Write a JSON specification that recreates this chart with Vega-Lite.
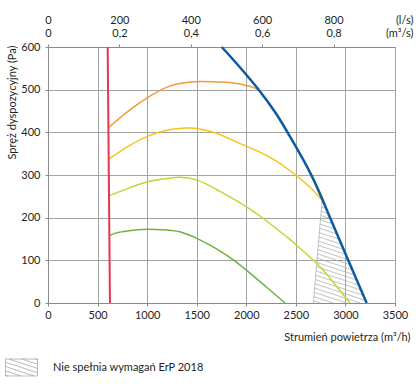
{
  "$schema": "https://vega.github.io/schema/vega-lite/v6.json",
  "width": 347,
  "height": 256,
  "autosize": "none",
  "padding": {"left": 48, "top": 47, "right": 25, "bottom": 85},
  "config": {
    "view": {"stroke": null},
    "font": "Lato",
    "axis": {
      "labelFont": "Lato",
      "labelFontSize": 11,
      "labelColor": "#231f20",
      "titleFont": "Lato",
      "titleFontSize": 11,
      "titleFontWeight": "normal",
      "titleColor": "#231f20",
      "tickColor": "#8a8a8a",
      "domainColor": "#8a8a8a",
      "gridColor": "#a3a3a3",
      "gridOpacity": 1,
      "gridWidth": 1,
      "tickSize": 3,
      "labelFlush": false,
      "labelOverlap": false
    }
  },
  "datasets": {
    "hatch": [
      {"zone": "Nie spełnia wymagań ErP 2018", "x": 2676, "y": 0, "x2": 2765, "y2": 241},
      {"zone": "Nie spełnia wymagań ErP 2018", "x": 2763, "y": 235, "x2": 2779, "y2": 233.8},
      {"zone": "Nie spełnia wymagań ErP 2018", "x": 2759, "y": 225, "x2": 2803, "y2": 221.7},
      {"zone": "Nie spełnia wymagań ErP 2018", "x": 2755, "y": 215, "x2": 2826, "y2": 209.6},
      {"zone": "Nie spełnia wymagań ErP 2018", "x": 2752, "y": 205, "x2": 2850, "y2": 197.5},
      {"zone": "Nie spełnia wymagań ErP 2018", "x": 2748, "y": 195, "x2": 2871, "y2": 185.6},
      {"zone": "Nie spełnia wymagań ErP 2018", "x": 2744, "y": 185, "x2": 2892, "y2": 173.7},
      {"zone": "Nie spełnia wymagań ErP 2018", "x": 2741, "y": 175, "x2": 2913, "y2": 161.8},
      {"zone": "Nie spełnia wymagań ErP 2018", "x": 2737, "y": 165, "x2": 2934, "y2": 149.9},
      {"zone": "Nie spełnia wymagań ErP 2018", "x": 2733, "y": 155, "x2": 2955, "y2": 138.0},
      {"zone": "Nie spełnia wymagań ErP 2018", "x": 2730, "y": 145, "x2": 2976, "y2": 126.1},
      {"zone": "Nie spełnia wymagań ErP 2018", "x": 2726, "y": 135, "x2": 2998, "y2": 114.2},
      {"zone": "Nie spełnia wymagań ErP 2018", "x": 2722, "y": 125, "x2": 3019, "y2": 102.2},
      {"zone": "Nie spełnia wymagań ErP 2018", "x": 2718, "y": 115, "x2": 3042, "y2": 90.2},
      {"zone": "Nie spełnia wymagań ErP 2018", "x": 2715, "y": 105, "x2": 3065, "y2": 78.2},
      {"zone": "Nie spełnia wymagań ErP 2018", "x": 2711, "y": 95, "x2": 3088, "y2": 66.2},
      {"zone": "Nie spełnia wymagań ErP 2018", "x": 2707, "y": 85, "x2": 3111, "y2": 54.1},
      {"zone": "Nie spełnia wymagań ErP 2018", "x": 2704, "y": 75, "x2": 3134, "y2": 42.1},
      {"zone": "Nie spełnia wymagań ErP 2018", "x": 2700, "y": 65, "x2": 3157, "y2": 30.0},
      {"zone": "Nie spełnia wymagań ErP 2018", "x": 2696, "y": 55, "x2": 3180, "y2": 18.0},
      {"zone": "Nie spełnia wymagań ErP 2018", "x": 2693, "y": 45, "x2": 3203, "y2": 5.9},
      {"zone": "Nie spełnia wymagań ErP 2018", "x": 2689, "y": 35, "x2": 3145, "y2": 0},
      {"zone": "Nie spełnia wymagań ErP 2018", "x": 2685, "y": 25, "x2": 3011, "y2": 0},
      {"zone": "Nie spełnia wymagań ErP 2018", "x": 2682, "y": 15, "x2": 2877, "y2": 0},
      {"zone": "Nie spełnia wymagań ErP 2018", "x": 2678, "y": 5, "x2": 2743, "y2": 0}
    ],
    "curves": [
      {"series": "k4", "x": 615, "y": 412},
      {"series": "k4", "x": 800, "y": 448},
      {"series": "k4", "x": 1000, "y": 481},
      {"series": "k4", "x": 1200, "y": 506},
      {"series": "k4", "x": 1300, "y": 513},
      {"series": "k4", "x": 1400, "y": 517},
      {"series": "k4", "x": 1550, "y": 519},
      {"series": "k4", "x": 1700, "y": 518},
      {"series": "k4", "x": 1850, "y": 516},
      {"series": "k4", "x": 2000, "y": 510},
      {"series": "k4", "x": 2060, "y": 506},
      {"series": "k4", "x": 2121, "y": 500},
      {"series": "k3", "x": 615, "y": 337},
      {"series": "k3", "x": 800, "y": 366},
      {"series": "k3", "x": 1006, "y": 391},
      {"series": "k3", "x": 1200, "y": 405},
      {"series": "k3", "x": 1382, "y": 410},
      {"series": "k3", "x": 1506, "y": 409},
      {"series": "k3", "x": 1700, "y": 398},
      {"series": "k3", "x": 1836, "y": 384},
      {"series": "k3", "x": 2105, "y": 357},
      {"series": "k3", "x": 2300, "y": 333},
      {"series": "k3", "x": 2441, "y": 310},
      {"series": "k3", "x": 2508, "y": 298},
      {"series": "k3", "x": 2640, "y": 272},
      {"series": "k3", "x": 2765, "y": 241},
      {"series": "k2", "x": 615, "y": 251},
      {"series": "k2", "x": 800, "y": 268},
      {"series": "k2", "x": 1006, "y": 284},
      {"series": "k2", "x": 1200, "y": 292},
      {"series": "k2", "x": 1331, "y": 295},
      {"series": "k2", "x": 1506, "y": 288},
      {"series": "k2", "x": 1700, "y": 266},
      {"series": "k2", "x": 1869, "y": 244},
      {"series": "k2", "x": 2037, "y": 220},
      {"series": "k2", "x": 2172, "y": 198},
      {"series": "k2", "x": 2300, "y": 175},
      {"series": "k2", "x": 2441, "y": 149},
      {"series": "k2", "x": 2508, "y": 135},
      {"series": "k2", "x": 2727, "y": 89},
      {"series": "k2", "x": 2900, "y": 42},
      {"series": "k2", "x": 3046, "y": 0},
      {"series": "k1", "x": 615, "y": 158},
      {"series": "k1", "x": 700, "y": 165},
      {"series": "k1", "x": 800, "y": 169},
      {"series": "k1", "x": 1000, "y": 173},
      {"series": "k1", "x": 1200, "y": 171},
      {"series": "k1", "x": 1331, "y": 167},
      {"series": "k1", "x": 1506, "y": 151},
      {"series": "k1", "x": 1700, "y": 127},
      {"series": "k1", "x": 1869, "y": 101},
      {"series": "k1", "x": 2037, "y": 70},
      {"series": "k1", "x": 2200, "y": 38},
      {"series": "k1", "x": 2391, "y": 0}
    ],
    "limit": [
      {"x": 1752, "y": 600},
      {"x": 1900, "y": 562},
      {"x": 2121, "y": 501},
      {"x": 2300, "y": 444},
      {"x": 2441, "y": 390},
      {"x": 2660, "y": 298},
      {"x": 2845, "y": 200},
      {"x": 3023, "y": 103},
      {"x": 3214, "y": 0}
    ],
    "minimum": [
      {"x": 602, "y": 600},
      {"x": 625, "y": 0}
    ]
  },
  "layer": [
    {
      "data": {"name": "hatch"},
      "mark": {"type": "rule", "strokeWidth": 0.7},
      "encoding": {
        "x": {
          "field": "x", "type": "quantitative",
          "scale": {"domain": [0, 3500], "nice": false, "zero": false},
          "axis": {
            "orient": "bottom",
            "values": [0, 500, 1000, 1500, 2000, 2500, 3000, 3500],
            "format": "d",
            "grid": true,
            "labelPadding": 3,
            "title": "Strumień powietrza (m³/h)",
            "titleX": 362,
            "titleY": 34,
            "titleAlign": "right",
            "titleBaseline": "middle"
          }
        },
        "y": {
          "field": "y", "type": "quantitative",
          "scale": {"domain": [0, 600], "nice": false},
          "axis": {
            "values": [0, 100, 200, 300, 400, 500, 600],
            "grid": true,
            "labelPadding": 5,
            "title": "Spręż dyspozycyjny (Pa)",
            "titleX": -36,
            "titleY": -2,
            "titleAngle": 270,
            "titleAlign": "right",
            "titleBaseline": "middle"
          }
        },
        "x2": {"field": "x2"},
        "y2": {"field": "y2"},
        "color": {
          "field": "zone", "type": "nominal",
          "scale": {"range": ["#a8a8a8"]},
          "legend": {
            "orient": "none",
            "legendX": -43,
            "legendY": 304,
            "title": null,
            "padding": 0,
            "symbolType": "M-1,-0.53H1V0.53H-1ZM0.848,-0.53L1,-0.48M0.03,-0.53L1,-0.21M-0.788,-0.53L1,0.06M-1,-0.33L1,0.33M-1,-0.06L0.788,0.53M-1,0.21L-0.03,0.53M-1,0.48L-0.848,0.53",
            "symbolSize": 1024,
            "symbolStrokeColor": "#9a9a9a",
            "symbolFillColor": "transparent",
            "symbolStrokeWidth": 0.8,
            "labelFont": "Lato",
            "labelFontSize": 11,
            "labelColor": "#231f20",
            "labelOffset": 15
          }
        }
      }
    },
    {
      "data": {"name": "curves"},
      "mark": {"type": "line", "strokeWidth": 1.5, "interpolate": "natural"},
      "encoding": {
        "x": {
          "field": "x", "type": "quantitative",
          "axis": {
            "orient": "top",
            "values": [0, 720, 1440, 2160, 2880],
            "grid": false,
            "domain": true,
            "labelPadding": 19,
            "labelLineHeight": 13,
            "labelExpr": "datum.value == 0 ? ['0', '0'] : [format(datum.value / 3.6, 'd'), replace(format(datum.value / 3600, '.1f'), '.', ',')]",
            "title": ["(l/s)", "(m³/s)"],
            "titleX": 365,
            "titleY": -27,
            "titleAlign": "right",
            "titleBaseline": "middle",
            "titleLineHeight": 13
          }
        },
        "y": {"field": "y", "type": "quantitative"},
        "color": {
          "field": "series", "type": "nominal",
          "scale": {"domain": ["k4", "k3", "k2", "k1"], "range": ["#f39a3e", "#fcc21b", "#c3d630", "#6cb33e"]},
          "legend": null
        }
      }
    },
    {
      "data": {"name": "limit"},
      "mark": {"type": "line", "strokeWidth": 2.5, "color": "#0d5a9c", "interpolate": "natural"},
      "encoding": {
        "x": {"field": "x", "type": "quantitative", "axis": null},
        "y": {"field": "y", "type": "quantitative"}
      }
    },
    {
      "data": {"name": "minimum"},
      "mark": {"type": "line", "strokeWidth": 2, "color": "#e8364f"},
      "encoding": {
        "x": {"field": "x", "type": "quantitative", "axis": null},
        "y": {"field": "y", "type": "quantitative"}
      }
    }
  ],
  "resolve": {"axis": {"x": "independent"}, "scale": {"color": "independent"}}
}
